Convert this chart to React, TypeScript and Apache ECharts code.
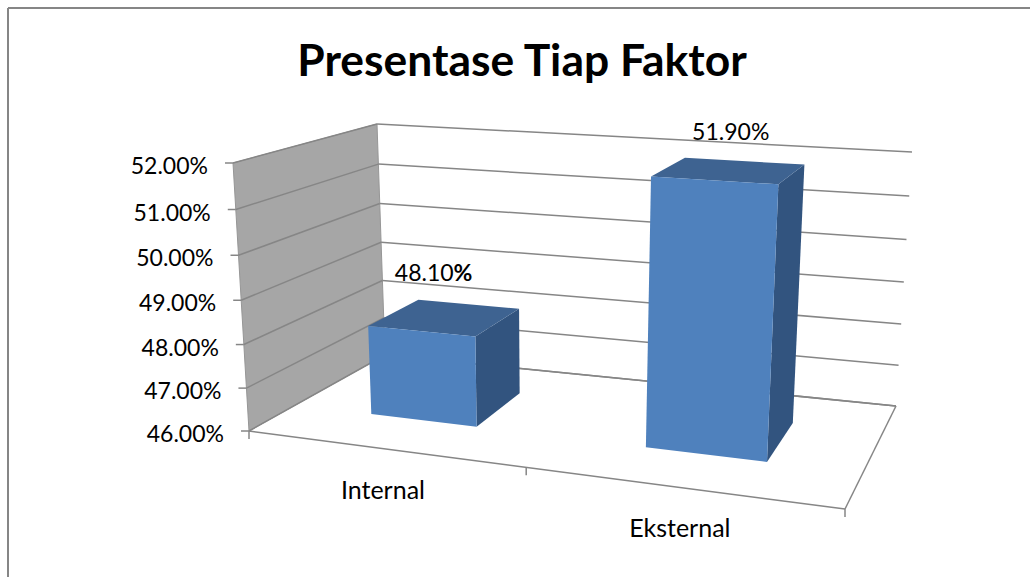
import React, { useEffect, useRef } from "react";
import * as echarts from "echarts";

const titleText = "Presentase Tiap Faktor";
const categories = ["Internal", "Eksternal"];
const values = [48.1, 51.9];
const yTicks = [46, 47, 48, 49, 50, 51, 52];
const FONT = "Lato, Carlito, Calibri, sans-serif";

type P = [number, number];
// Corners of the 3D box on the page (bottom and top, front and back).
const FLb: P = [249, 431], FRb: P = [845, 509], BLb: P = [385, 355], BRb: P = [896, 406];
const FLt: P = [233, 163], FRt: P = [862, 203], BLt: P = [377, 124], BRt: P = [912, 152];
const KU = 0.15, KT = 0.05;
const D_FRONT = 0.345, D_BACK = 0.74;
const BAR_BAND = 0.4;

function lerp(a: P, b: P, f: number): P {
  return [a[0] + (b[0] - a[0]) * f, a[1] + (b[1] - a[1]) * f];
}
// u: 0..1 along the category axis, d: 0..1 front to back, t: 0..1 along the value axis
function project(u: number, d: number, t: number): P {
  const uu = u / (1 + KU * (1 - u));
  const tt = t / (1 + KT * (1 - t));
  const bottom = lerp(lerp(FLb, FRb, uu), lerp(BLb, BRb, uu), d);
  const top = lerp(lerp(FLt, FRt, uu), lerp(BLt, BRt, uu), d);
  return lerp(bottom, top, tt);
}
function norm(params: any, api: any, c: number, v: number) {
  const cs = params.coordSys;
  const p = api.coord([c, v]);
  return { u: (p[0] - cs.x) / cs.width, t: 1 - (p[1] - cs.y) / cs.height };
}
const GREY = "#868686";
const line = (a: P, b: P, w = 1.5, color = GREY) => ({
  type: "line",
  shape: { x1: a[0], y1: a[1], x2: b[0], y2: b[1] },
  style: { stroke: color, lineWidth: w, fill: "none" },
});

function renderFrame(params: any, api: any) {
  const wall = {
    type: "polygon",
    shape: { points: [project(0, 0, 0), project(0, 0, 1), project(0, 1, 1), project(0, 1, 0)] },
    style: { fill: "#A6A6A6", stroke: "#969696", lineWidth: 1 },
  };
  const children: any[] = [
    wall,
    line(project(0, 0, 0), project(1, 0, 0)),
    line(project(1, 0, 0), project(1, 1, 0)),
    line(project(0, 1, 0), project(1, 1, 0)),
  ];
  [0, 0.5, 1].forEach((u) => {
    const p = project(u, 0, 0);
    children.push(line(p, [p[0], p[1] + 8]));
  });
  return { type: "group", children };
}

function renderTick(params: any, api: any) {
  const v = api.value(1);
  const { t } = norm(params, api, 0, v);
  const front = project(0, 0, t);
  const back = project(0, 1, t);
  const right = project(1, 1, t);
  return {
    type: "group",
    children: [
      line(front, back),
      line(back, right),
      line([front[0] - 8, front[1]], front),
      {
        type: "text",
        style: {
          text: v.toFixed(2) + "%",
          x: front[0] - 25,
          y: front[1] + 2,
          align: "right",
          verticalAlign: "middle",
          font: `23px ${FONT}`,
          fill: "#000",
        },
      },
    ],
  };
}

function renderBar(params: any, api: any) {
  const i = api.value(0);
  const v = api.value(1);
  const { u, t } = norm(params, api, i, v);
  const half = (api.size([1, 0])[0] / params.coordSys.width) * BAR_BAND * 0.5;
  const u0 = u - half, u1 = u + half;
  const a = (uu: number, d: number, tt: number) => project(uu, d, tt);
  const poly = (pts: P[], fill: string) => ({ type: "polygon", shape: { points: pts }, style: { fill } });
  const cx = (a(u0, D_FRONT, t)[0] + a(u1, D_BACK, t)[0]) / 2;
  const cy = (a(u0, D_BACK, t)[1] + a(u1, D_FRONT, t)[1]) / 2;
  const isFirst = i === 0;
  return {
    type: "group",
    children: [
      poly([a(u1, D_FRONT, 0), a(u1, D_BACK, 0), a(u1, D_BACK, t), a(u1, D_FRONT, t)], "#32547F"),
      poly([a(u0, D_FRONT, t), a(u0, D_BACK, t), a(u1, D_BACK, t), a(u1, D_FRONT, t)], "#3E6391"),
      poly([a(u0, D_FRONT, 0), a(u1, D_FRONT, 0), a(u1, D_FRONT, t), a(u0, D_FRONT, t)], "#4F81BD"),
      {
        type: "text",
        style: isFirst
          ? {
              text: `{n|${v.toFixed(2)}}{b|%}`,
              x: cx - 10,
              y: cy - 46,
              align: "center",
              verticalAlign: "middle",
              rich: {
                n: { font: `23px ${FONT}`, fill: "#000" },
                b: { font: `bold 23px ${FONT}`, fill: "#000" },
              },
            }
          : {
              text: v.toFixed(2) + "%",
              x: cx + 3,
              y: cy - 40,
              align: "center",
              verticalAlign: "middle",
              font: `23px ${FONT}`,
              fill: "#000",
            },
      },
    ],
  };
}

function renderCategory(params: any, api: any) {
  const i = api.value(0);
  const { u } = norm(params, api, i, 46);
  const p = project(u, 0, 0);
  return {
    type: "text",
    style: {
      text: categories[i],
      x: p[0],
      y: p[1] + 40,
      align: "center",
      verticalAlign: "middle",
      font: `25px ${FONT}`,
      fill: "#000",
    },
  };
}

export default function App() {
  const ref = useRef<HTMLDivElement>(null);
  useEffect(() => {
    const chart = echarts.init(ref.current!, null, { renderer: "svg" });
    chart.setOption({
      animation: false,
      backgroundColor: "#fff",
      title: {
        text: titleText,
        left: 517,
        top: 31,
        textAlign: "center",
        textStyle: { fontFamily: FONT, fontWeight: "bold", fontSize: 44.4, color: "#000" },
      },
      grid: { left: 100, top: 100, width: 800, height: 400 },
      xAxis: { type: "category", data: categories, show: false },
      yAxis: { type: "value", min: 46, max: 52, interval: 1, show: false },
      graphic: [
        { type: "line", shape: { x1: 8, y1: 577, x2: 8, y2: 8 }, style: { stroke: GREY, lineWidth: 2 } },
        { type: "line", shape: { x1: 8, y1: 8, x2: 1030, y2: 8 }, style: { stroke: GREY, lineWidth: 2 } },
      ],
      series: [
        { type: "custom", name: "frame", z: 1, data: [[0, 46]], encode: { x: 0, y: 1 }, renderItem: renderFrame },
        { type: "custom", name: "ticks", z: 2, data: yTicks.map((v) => [0, v]), encode: { x: 0, y: 1 }, renderItem: renderTick },
        { type: "custom", name: "categories", z: 3, data: categories.map((_, i) => [i, 46]), encode: { x: 0, y: 1 }, renderItem: renderCategory },
        { type: "custom", name: "Presentase", z: 4, data: values.map((v, i) => [i, v]), encode: { x: 0, y: 1 }, renderItem: renderBar },
      ],
    });
    return () => chart.dispose();
  }, []);
  return <div ref={ref} style={{ position: "fixed", left: 0, top: 0, width: 1030, height: 577 }} />;
}
